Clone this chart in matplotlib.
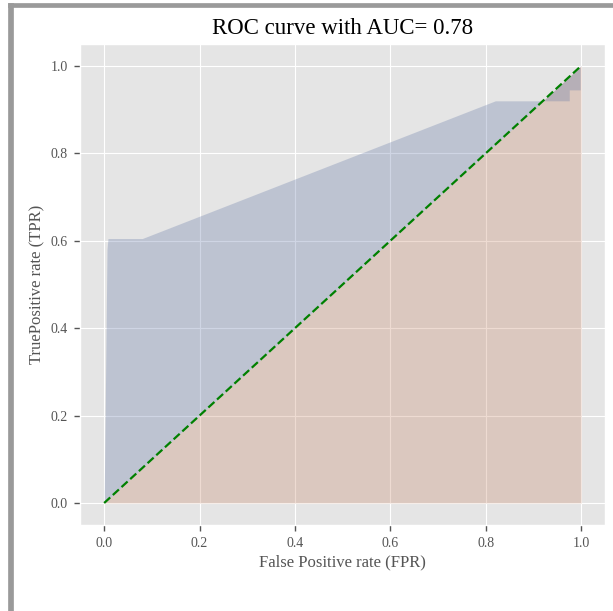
import matplotlib
matplotlib.use("Agg")
import matplotlib.pyplot as plt
from matplotlib.patches import Rectangle

plt.style.use("ggplot")
plt.rcParams["font.family"] = ["Liberation Serif", "DejaVu Serif"]

# ROC curve points
fpr = [0.0, 0.006, 0.008, 0.08, 0.82, 0.975, 0.975, 0.998, 0.998, 1.0]
tpr = [0.0, 0.58, 0.605, 0.605, 0.92, 0.92, 0.945, 0.945, 1.0, 1.0]
auc = 0.78

fig = plt.figure(figsize=(6.13, 6.11), dpi=100, facecolor="white")
ax = fig.add_axes([0.131, 0.141, 0.856, 0.787])

# area under the diagonal, then area between ROC and diagonal
ax.fill_between(fpr, fpr, color="#C7886A", alpha=0.3, linewidth=0)
ax.fill_between(fpr, tpr, fpr, color="#6377A6", alpha=0.3, linewidth=0)
ax.plot([0, 1], [0, 1], "g--", linewidth=1.6)

ax.set_xticks([0.0, 0.2, 0.4, 0.6, 0.8, 1.0])
ax.set_yticks([0.0, 0.2, 0.4, 0.6, 0.8, 1.0])
ax.set_xlim(-0.05, 1.05)
ax.set_ylim(-0.05, 1.05)
ax.tick_params(labelsize=10, length=4, width=1, color="#555555", pad=5,
               direction="out", bottom=True, left=True)
ax.set_title("ROC curve with AUC= %.2f" % auc, fontsize=16.5, color="black", pad=7)
ax.set_xlabel("False Positive rate (FPR)", fontsize=12, labelpad=3)
ax.set_ylabel("TruePositive rate (TPR)", fontsize=12)

# screenshot frame at top and left
fig.patches.append(Rectangle((8 / 613, 1 - 7 / 611), 1, 4 / 611,
                             transform=fig.transFigure, color="#9a9a9a", zorder=0))
fig.patches.append(Rectangle((8 / 613, 0), 5 / 613, 1 - 3 / 611,
                             transform=fig.transFigure, color="#9a9a9a", zorder=0))

fig.savefig("out.png", dpi=100, facecolor="white")
